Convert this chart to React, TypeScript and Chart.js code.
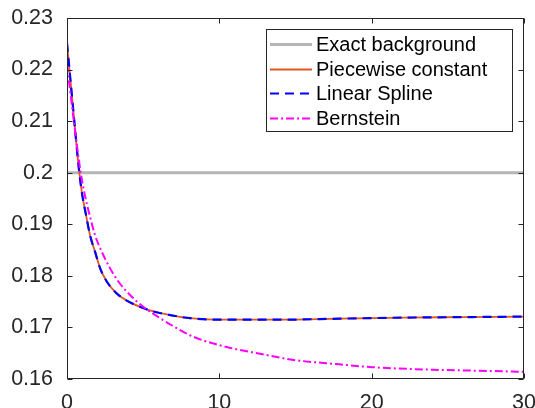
import React, { useEffect, useRef } from "react";
import { Chart, registerables } from "chart.js";

Chart.register(...registerables);

// ---- Data ----
const seriesLabels = ["Exact background", "Piecewise constant", "Linear Spline", "Bernstein"];

const exactX = [0, 30];
const exactY = [0.2, 0.2];

const pcX = [0, 0.4, 0.8, 1.0, 1.25, 1.51, 1.84, 2.17, 2.61, 3.26, 3.92, 4.79, 5.67, 6.76, 8.08, 10, 12, 14, 17.9, 22, 26, 30];
const pcY = [0.2251, 0.2125, 0.2002, 0.1957, 0.1918, 0.1879, 0.1847, 0.1815, 0.1789, 0.1766, 0.1752, 0.174, 0.1731, 0.1724, 0.1718, 0.1715, 0.1715, 0.1715, 0.1717, 0.1719, 0.172, 0.1721];

const lsX = [0, 0.4, 0.8, 1.0, 1.25, 1.51, 1.84, 2.17, 2.61, 3.26, 3.92, 4.79, 5.67, 6.76, 8.08, 10, 12, 14, 17.9, 22, 26, 30];
const lsY = [0.2252, 0.2125, 0.2002, 0.1957, 0.1918, 0.1879, 0.1847, 0.1815, 0.1789, 0.1766, 0.1752, 0.174, 0.1731, 0.1724, 0.1718, 0.1715, 0.1715, 0.1715, 0.1717, 0.1719, 0.172, 0.1721];

const bsX = [0, 0.45, 0.9, 1.2, 1.51, 1.84, 2.28, 2.82, 3.37, 4.14, 5.01, 6.11, 6.65, 8.29, 10.49, 12.67, 14.86, 17.7, 20, 24, 27, 30];
const bsY = [0.221, 0.21, 0.2, 0.1953, 0.1915, 0.1879, 0.1847, 0.1815, 0.1789, 0.1763, 0.174, 0.1718, 0.1708, 0.1682, 0.1662, 0.1649, 0.1637, 0.1629, 0.1623, 0.1618, 0.1616, 0.1614];

const xTickValues = [0, 10, 20, 30];
const yTickValues = [0.16, 0.17, 0.18, 0.19, 0.2, 0.21, 0.22, 0.23];

const FONT = '"Liberation Sans", Arial, Helvetica, sans-serif';
const AXIS_COLOR = "#262626";

const toPoints = (xs: number[], ys: number[]) => xs.map((x, i) => ({ x, y: ys[i] }));

const boxPlugin = {
  id: "matlabBox",
  afterDatasetsDraw(chart: any) {
    const { ctx, chartArea: a, scales } = chart;
    const xs = scales.x;
    const ys = scales.y;
    const L = Math.round(a.left) + 0.5;
    const R = Math.round(a.right) - 0.5;
    const T = Math.round(a.top) + 0.5;
    const B = Math.round(a.bottom) - 0.5;
    const tl = 5;
    ctx.save();
    ctx.strokeStyle = AXIS_COLOR;
    ctx.lineWidth = 1;
    ctx.beginPath();
    xTickValues.forEach((v) => {
      const p = Math.round(xs.getPixelForValue(v)) + 0.5;
      ctx.moveTo(p, B);
      ctx.lineTo(p, B - tl);
      ctx.moveTo(p, T);
      ctx.lineTo(p, T + tl);
    });
    yTickValues.forEach((v) => {
      const p = Math.round(ys.getPixelForValue(v)) + 0.5;
      ctx.moveTo(L, p);
      ctx.lineTo(L + tl, p);
      ctx.moveTo(R, p);
      ctx.lineTo(R - tl, p);
    });
    ctx.stroke();
    ctx.strokeRect(L, T, R - L, B - T);
    ctx.restore();
  },
};

const legendPlugin = {
  id: "boxLegend",
  afterDraw(chart: any) {
    const { ctx, chartArea: a } = chart;
    const ds = chart.data.datasets;
    ctx.save();
    ctx.font = `20px ${FONT}`;
    const textW = Math.max(...ds.map((d: any) => ctx.measureText(d.label).width));
    const padL = 4;
    const sample = 42;
    const gap = 4;
    const padR = 26;
    const rowH = 24.7;
    const padT = 15;
    const padB = 14;
    const w = Math.round(padL + sample + gap + textW + padR);
    const h = Math.round(padT + rowH * (ds.length - 1) + padB);
    const right = Math.round(a.right) - 11;
    const top = Math.round(a.top) + 11;
    const left = right - w;
    ctx.fillStyle = "#ffffff";
    ctx.fillRect(left, top, w, h);
    ctx.strokeStyle = AXIS_COLOR;
    ctx.lineWidth = 1;
    ctx.strokeRect(left + 0.5, top + 0.5, w - 1, h - 1);
    ds.forEach((d: any, i: number) => {
      const cy = Math.round(top + padT + rowH * i) + 0.5;
      ctx.save();
      ctx.strokeStyle = d.borderColor;
      ctx.lineWidth = d.borderWidth;
      ctx.setLineDash(d.borderDash || []);
      ctx.beginPath();
      ctx.moveTo(left + padL, cy);
      ctx.lineTo(left + padL + sample, cy);
      ctx.stroke();
      ctx.restore();
      ctx.fillStyle = "#000000";
      ctx.textAlign = "left";
      ctx.textBaseline = "middle";
      ctx.fillText(d.label, left + padL + sample + gap, cy + 1);
    });
    ctx.restore();
  },
};

const fmt = (v: any) => String(Number(Number(v).toFixed(2)));

export default function App() {
  const canvasRef = useRef<HTMLCanvasElement | null>(null);

  useEffect(() => {
    const canvas = canvasRef.current;
    if (!canvas) return;
    const chart = new Chart(canvas, {
      type: "line",
      data: {
        datasets: [
          {
            label: seriesLabels[0],
            data: toPoints(exactX, exactY),
            borderColor: "#b5b5b5",
            borderWidth: 3,
            pointRadius: 0,
            order: 4,
          },
          {
            label: seriesLabels[1],
            data: toPoints(pcX, pcY),
            borderColor: "#e2571e",
            borderWidth: 1.8,
            pointRadius: 0,
            cubicInterpolationMode: "monotone",
            order: 3,
          },
          {
            label: seriesLabels[2],
            data: toPoints(lsX, lsY),
            borderColor: "#0000ff",
            borderWidth: 2.2,
            borderDash: [9, 6],
            pointRadius: 0,
            cubicInterpolationMode: "monotone",
            order: 2,
          },
          {
            label: seriesLabels[3],
            data: toPoints(bsX, bsY),
            borderColor: "#ff00ff",
            borderWidth: 2,
            borderDash: [8, 3, 2, 3],
            pointRadius: 0,
            cubicInterpolationMode: "monotone",
            order: 1,
          },
        ],
      } as any,
      options: {
        animation: false,
        responsive: false,
        devicePixelRatio: 1,
        layout: { padding: { left: 0, top: 18, right: 11, bottom: 0 } },
        plugins: {
          legend: { display: false },
          tooltip: { enabled: false },
        },
        scales: {
          x: {
            type: "linear",
            min: 0,
            max: 30,
            afterFit: (s: any) => {
              s.height = 29;
              s.paddingLeft = 0;
              s.paddingRight = 0;
            },
            afterBuildTicks: (s: any) => {
              s.ticks = xTickValues.map((v) => ({ value: v }));
            },
            grid: { display: false, drawTicks: false },
            border: { display: false },
            ticks: {
              padding: 11,
              maxRotation: 0,
              color: AXIS_COLOR,
              font: { family: FONT, size: 21.5 },
              callback: (v: any) => fmt(v),
            },
          },
          y: {
            type: "linear",
            min: 0.16,
            max: 0.23,
            afterFit: (s: any) => {
              s.width = 67;
              s.paddingTop = 0;
              s.paddingBottom = 0;
            },
            afterBuildTicks: (s: any) => {
              s.ticks = yTickValues.map((v) => ({ value: v }));
            },
            grid: { display: false, drawTicks: false },
            border: { display: false },
            ticks: {
              padding: 14,
              color: AXIS_COLOR,
              font: { family: FONT, size: 21.5 },
              callback: (v: any) => fmt(v),
            },
          },
        },
      } as any,
      plugins: [boxPlugin, legendPlugin],
    });
    return () => chart.destroy();
  }, []);

  return (
    <div style={{ position: "fixed", left: 0, top: 0, width: 535, height: 408, background: "#fff" }}>
      <canvas ref={canvasRef} width={535} height={408} style={{ display: "block" }} />
    </div>
  );
}
